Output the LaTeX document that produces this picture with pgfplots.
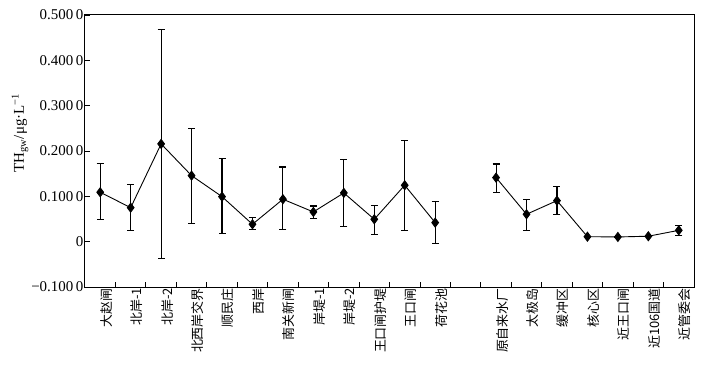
\documentclass[border=0pt]{standalone}
\usepackage{pgfplots}
\pgfplotsset{compat=1.18}
\usepackage{pgfplotstable}
\usepackage{fontspec}
\setmainfont{Liberation Serif}
\newfontfamily\cjk{Noto Sans CJK SC}

\pgfplotstableread{
x y ep em
0 0.109 0.0625 0.061
1 0.075 0.052 0.051
2 0.2157 0.252 0.252
3 0.1457 0.103 0.105
4 0.0993 0.084 0.081
5 0.0384 0.015 0.012
6 0.0936 0.071 0.066
7 0.0656 0.013 0.014
8 0.1075 0.073 0.075
9 0.0494 0.030 0.033
10 0.1245 0.099 0.100
11 0.042 0.046 0.046
}\groupA

\pgfplotstableread{
x y ep em
13 0.1413 0.030 0.032
14 0.0605 0.033 0.035
15 0.0905 0.032 0.030
16 0.011 0 0
17 0.0104 0 0
18 0.012 0 0
19 0.025 0.011 0.012
}\groupB

\begin{document}
\begin{tikzpicture}
\path[use as bounding box] (-85bp,-82bp) rectangle (620bp,287bp);
\begin{axis}[
  at={(0,0)}, anchor=south west,
  scale only axis, width=609bp, height=272bp,
  xmin=-0.5, xmax=19.5, ymin=-0.1, ymax=0.5,
  axis line style={line width=1bp, black},
  tick align=inside, tick pos=left,
  xtick={0.5,1.5,...,18.5},
  xticklabels={},
  extra x ticks={0,...,11,13,14,...,19},
  extra x tick labels={大赵闸,北岸-1,北岸-2,北西岸交界,顺民庄,西岸,南关新闸,岸堤-1,岸堤-2,王口闸护堤,王口闸,荷花池,原自来水厂,太极岛,缓冲区,核心区,近王口闸,近106国道,近管委会},
  extra x tick style={major tick length=0pt},
  major tick length=5bp,
  tick style={line width=0.8bp, black},
  xticklabel style={rotate=90, anchor=east, font=\cjk\fontsize{13}{14}\selectfont, yshift=-6bp, inner sep=1bp},
  ytick={-0.1,0,0.1,0.2,0.3,0.4,0.5},
  yticklabels={−0.100\,0,0,0.100\,0,0.200\,0,0.300\,0,0.400\,0,0.500\,0},
  yticklabel style={font=\fontsize{15}{16}\selectfont, inner sep=1.5bp},
  every axis y label/.style={at={(axis description cs:-0.1067,0.566)}, anchor=center, rotate=90},
  ylabel={TH\textsubscript{gw}/μg·L\textsuperscript{−1}},
  ylabel style={font=\fontsize{15}{16}\selectfont},
  clip=false,
]
\addplot[black, line width=0.9bp, mark=diamond*, mark size=4.5bp,
  error bars/.cd, y dir=both, y explicit,
  error bar style={line width=1.1bp, black},
  error mark options={rotate=90, mark size=3.5bp, line width=1.1bp, black}]
  table[x=x, y=y, y error plus=ep, y error minus=em] {\groupA};
\addplot[black, line width=0.9bp, mark=diamond*, mark size=4.5bp,
  error bars/.cd, y dir=both, y explicit,
  error bar style={line width=1.1bp, black},
  error mark options={rotate=90, mark size=3.5bp, line width=1.1bp, black}]
  table[x=x, y=y, y error plus=ep, y error minus=em] {\groupB};
\end{axis}
\end{tikzpicture}
\end{document}
